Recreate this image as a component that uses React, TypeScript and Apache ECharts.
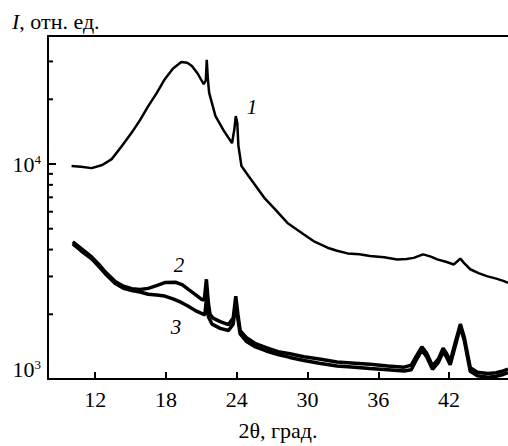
import React, { useEffect, useRef } from "react";
import * as echarts from "echarts";

const X_MIN = 8;
const X_MAX = 47;
const Y_MIN = 1000;
const Y_MAX = 39400;

const xTickValues = [12, 18, 24, 30, 36, 42];
const yMajorTicks = [1000, 10000];
const yMinorTicks = [2000, 3000, 4000, 5000, 6000, 7000, 8000, 9000, 20000, 30000];

const theta1 = [10.0, 10.8, 11.7, 12.6, 13.4, 14.2, 15.1, 15.8, 16.5, 17.2, 17.9, 18.6, 19.3, 19.8, 20.2, 20.7, 21.2, 21.38, 21.46, 21.55, 21.66, 22.2, 22.9, 23.6, 23.8, 23.92, 24.05, 24.14, 24.4, 25.0, 25.6, 26.4, 27.2, 28.3, 29.7, 30.6, 31.7, 32.5, 33.4, 34.4, 35.3, 36.5, 37.6, 38.4, 39.0, 39.8, 40.4, 41.0, 41.8, 42.4, 42.96, 43.3, 43.8, 44.5, 45.2, 46.0, 46.6, 47.0];
const int1 = [9800, 9700, 9570, 9900, 10540, 12000, 14000, 16000, 18600, 21300, 24800, 27800, 29800, 29600, 28600, 26300, 23500, 24500, 30500, 25000, 21500, 16700, 14300, 12500, 14500, 16700, 15500, 12200, 9800, 8800, 7930, 6900, 6200, 5320, 4700, 4350, 4080, 3950, 3840, 3800, 3730, 3680, 3600, 3620, 3660, 3800, 3720, 3600, 3500, 3410, 3630, 3450, 3240, 3110, 3010, 2930, 2860, 2800];

const theta2 = [10.1, 10.8, 11.7, 12.3, 12.85, 13.7, 14.4, 15.1, 15.8, 16.5, 17.2, 17.9, 18.8, 19.4, 19.9, 20.5, 21.0, 21.25, 21.43, 21.6, 21.74, 22.0, 22.6, 23.3, 23.7, 23.92, 24.1, 24.29, 24.8, 25.6, 26.5, 27.5, 28.5, 29.7, 31.0, 32.5, 34.0, 35.3, 36.8, 38.2, 38.8, 39.2, 39.7, 40.1, 40.6, 41.1, 41.5, 41.8, 42.1, 42.5, 42.96, 43.3, 43.8, 44.4, 45.3, 46.0, 46.6, 47.0];
const int2 = [4350, 4050, 3700, 3420, 3150, 2840, 2700, 2630, 2610, 2640, 2720, 2810, 2820, 2740, 2610, 2470, 2350, 2330, 2910, 2250, 2000, 1920, 1850, 1790, 1920, 2430, 2000, 1680, 1560, 1460, 1400, 1340, 1310, 1270, 1240, 1200, 1185, 1170, 1150, 1135, 1160, 1270, 1410, 1320, 1150, 1240, 1390, 1310, 1210, 1460, 1800, 1560, 1130, 1075, 1060, 1070, 1090, 1110];

const theta3 = [10.1, 10.8, 11.7, 12.3, 12.85, 13.7, 14.4, 15.1, 15.8, 16.5, 17.2, 17.9, 18.6, 19.3, 19.9, 20.5, 21.2, 21.3, 21.43, 21.6, 21.9, 22.6, 23.3, 23.7, 23.92, 24.1, 24.29, 24.8, 25.6, 26.5, 27.5, 28.5, 29.7, 31.0, 32.5, 34.0, 35.3, 36.8, 38.2, 38.8, 39.2, 39.7, 40.1, 40.6, 41.1, 41.5, 41.8, 42.1, 42.5, 42.96, 43.3, 43.8, 44.4, 45.3, 46.0, 46.6, 47.0];
const int3 = [4250, 3950, 3620, 3340, 3090, 2780, 2640, 2580, 2540, 2480, 2460, 2430, 2360, 2270, 2180, 2080, 2000, 1990, 2350, 1950, 1800, 1720, 1680, 1800, 2250, 1900, 1620, 1500, 1410, 1350, 1300, 1260, 1220, 1185, 1150, 1135, 1120, 1105, 1090, 1105, 1220, 1360, 1270, 1110, 1195, 1340, 1260, 1165, 1405, 1745, 1505, 1085, 1035, 1020, 1030, 1050, 1070];

const zip = (xs: number[], ys: number[]) => xs.map((x, i) => [x, ys[i]]);

const FONT = "Liberation Serif";

export default function App() {
  const ref = useRef<HTMLDivElement>(null);
  useEffect(() => {
    if (!ref.current) return;
    const chart = echarts.init(ref.current, null, { renderer: "svg" });
    const lineSeries = (data: number[][], width: number) => ({
      type: "line",
      data,
      showSymbol: false,
      symbol: "none",
      lineStyle: { color: "#000", width },
      z: 3,
    });
    const ticks = [
      ...yMajorTicks.map((v) => [X_MIN, v, 8]),
      ...yMinorTicks.map((v) => [X_MIN, v, 5]),
    ];
    const numText = (text: string, x: number, y: number) => ({
      type: "text",
      x,
      y,
      style: { text, fontSize: 21, fontFamily: FONT, fontStyle: "italic", fill: "#000", align: "center", verticalAlign: "middle" },
    });
    chart.setOption({
      animation: false,
      backgroundColor: "#fff",
      grid: { left: 48, right: 0, top: 36, bottom: 66 },
      xAxis: [
        {
          type: "value",
          min: X_MIN,
          max: X_MAX,
          position: "bottom",
          splitLine: { show: false },
          axisLine: { lineStyle: { color: "#000", width: 2 } },
          axisTick: {
            inside: true,
            length: 7,
            customValues: xTickValues,
            lineStyle: { color: "#000", width: 2 },
          },
          axisLabel: {
            customValues: xTickValues,
            color: "#000",
            fontSize: 22,
            fontFamily: FONT,
            margin: 9,
          },
          name: "2θ, град.",
          nameLocation: "middle",
          nameGap: 40,
          nameTextStyle: { color: "#000", fontSize: 22, fontFamily: FONT },
        },
        {
          type: "value",
          min: X_MIN,
          max: X_MAX,
          position: "top",
          splitLine: { show: false },
          axisLine: { lineStyle: { color: "#000", width: 2 } },
          axisTick: { show: false },
          axisLabel: { show: false },
        },
      ],
      yAxis: {
        type: "log",
        logBase: 10,
        min: Y_MIN,
        max: Y_MAX,
        splitLine: { show: false },
        axisLine: { show: true, lineStyle: { color: "#000", width: 2 } },
        axisTick: { show: false },
        axisLabel: {
          color: "#000",
          margin: 7,
          fontFamily: FONT,
          formatter: (v: number) => {
            const e = Math.log10(v);
            if (Math.abs(e - Math.round(e)) > 1e-6) return "";
            const p = Math.round(e);
            if (p === 3) return `{b|10}{s|${p}}\n{g|}`;
            return `{b|10}{s|${p}}`;
          },
          rich: {
            b: { fontSize: 22, fontFamily: FONT, color: "#000", lineHeight: 22 },
            s: { fontSize: 13, fontFamily: FONT, color: "#000", verticalAlign: "top", lineHeight: 22 },
            g: { fontSize: 10, lineHeight: 20 },
          },
        },
      },
      series: [
        lineSeries(zip(theta1, int1), 2.5),
        lineSeries(zip(theta2, int2), 3.5),
        lineSeries(zip(theta3, int3), 3.5),
        {
          type: "custom",
          data: ticks,
          clip: false,
          silent: true,
          renderItem: (params: any, api: any) => {
            const p = api.coord([api.value(0), api.value(1)]);
            const len = api.value(2);
            return {
              type: "line",
              shape: { x1: p[0], y1: p[1], x2: p[0] + len, y2: p[1] },
              style: { stroke: "#000", lineWidth: 2 },
            };
          },
          z: 4,
        },
      ],
      graphic: [
        {
          type: "text",
          left: 12,
          top: 10,
          style: {
            text: "{i|I}{n|, отн. ед.}",
            rich: {
              i: { fontSize: 22, fontFamily: FONT, fontStyle: "italic", fill: "#000" },
              n: { fontSize: 22, fontFamily: FONT, fill: "#000" },
            },
          },
        },
        numText("1", 252, 107),
        numText("2", 179, 265),
        numText("3", 176, 327),
      ],
    });
    return () => chart.dispose();
  }, []);
  return <div ref={ref} style={{ width: 508, height: 446, position: "absolute", left: 0, top: 0 }} />;
}
